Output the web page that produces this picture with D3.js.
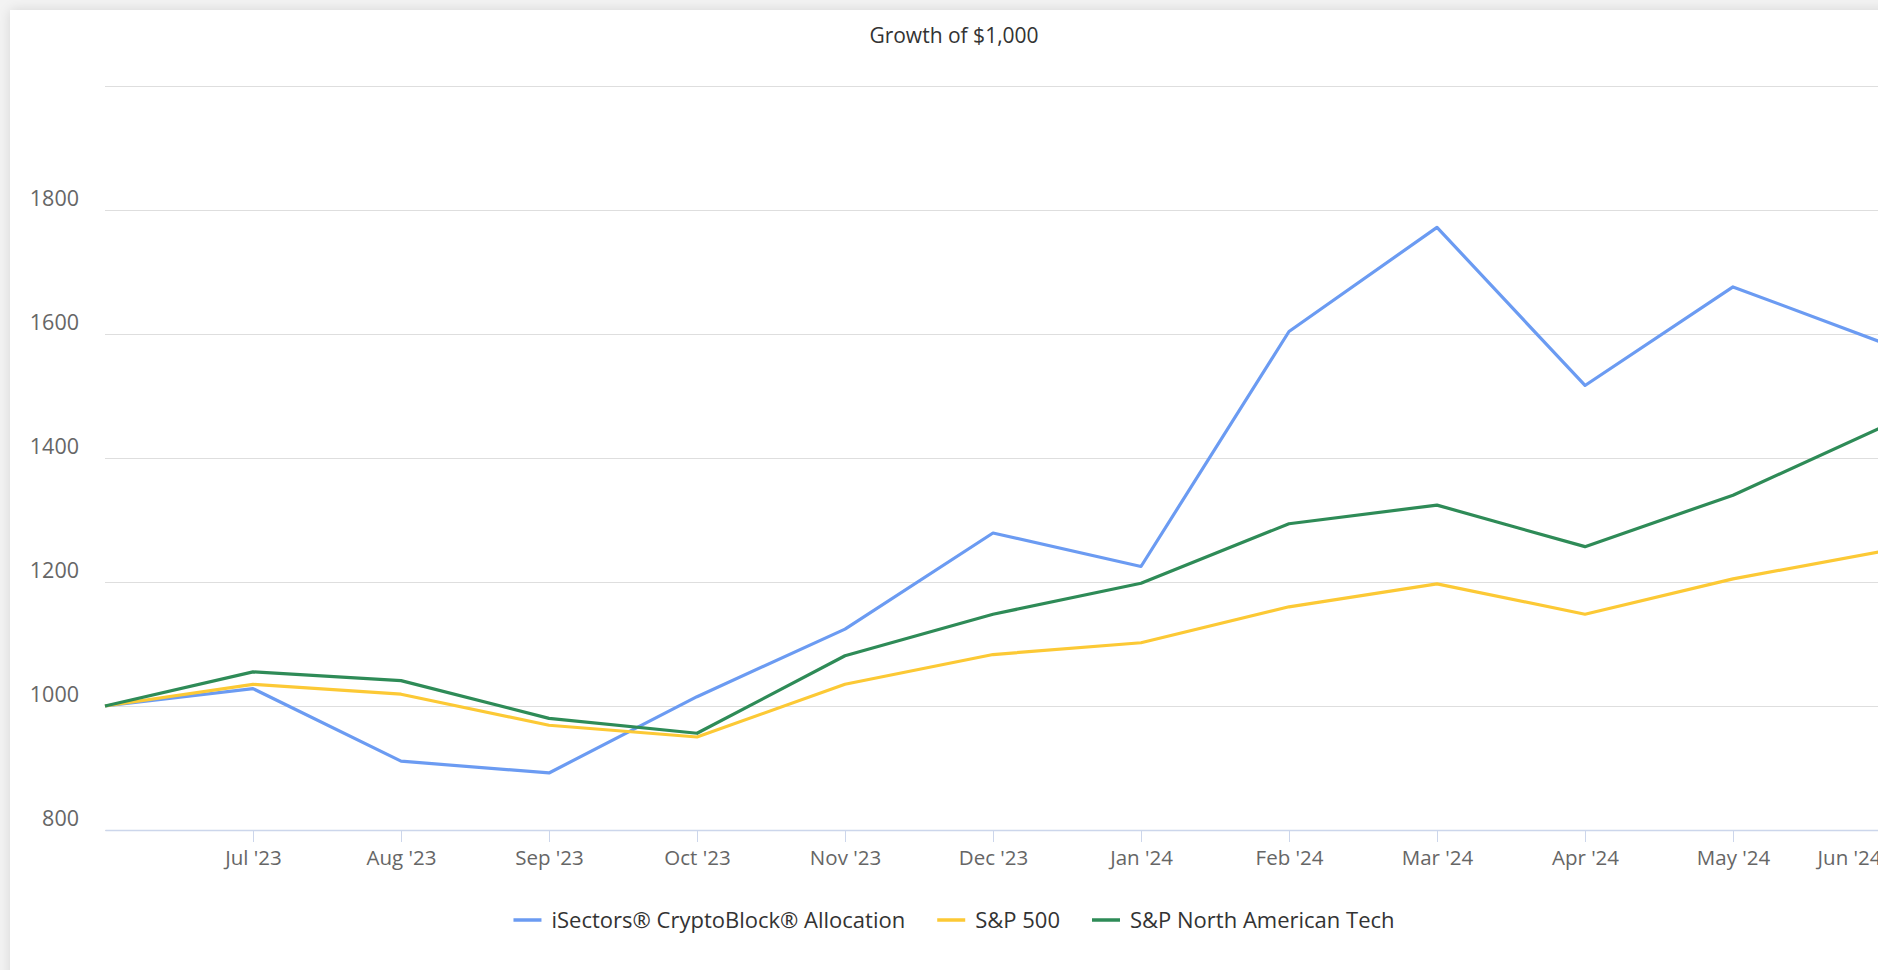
<!DOCTYPE html>
<html>
<head>
<meta charset="utf-8">
<script src="https://cdn.jsdelivr.net/npm/d3@7"></script>
<style>
  html, body { margin: 0; padding: 0; overflow: hidden; background: #f3f3f3; }
  body { width: 1878px; height: 970px; position: relative; font-family: "Open Sans", sans-serif; }
  .card { position: absolute; left: 10px; top: 10px; width: 1900px; height: 1000px; background: #fff;
          box-shadow: 0 0 12px rgba(0,0,0,0.12); }
  svg { position: absolute; left: 0; top: 0; }
  .title { font-size: 21px; fill: #333; }
  .tick text { font-family: "Open Sans", sans-serif; fill: #666; }
  .y-axis .tick text { font-size: 21.5px; }
  .x-axis .tick text { font-size: 20.5px; }
  .legend text { font-size: 22px; fill: #333; }
</style>
</head>
<body>
<div class="card"></div>
<div id="app"></div>
<script>
const months = ["Jun '23", "Jul '23", "Aug '23", "Sep '23", "Oct '23", "Nov '23", "Dec '23",
  "Jan '24", "Feb '24", "Mar '24", "Apr '24", "May '24", "Jun '24"];
const cryptoBlock = [1000, 1028, 911, 892, 1015, 1124, 1279, 1225, 1604, 1772, 1517, 1676, 1587];
const sp500 = [1000, 1035, 1019, 969, 950, 1035, 1083, 1102, 1160, 1197, 1148, 1205, 1249];
const naTech = [1000, 1055, 1041, 980, 956, 1081, 1148, 1198, 1294, 1324, 1257, 1340, 1449];
const yTicks = [800, 1000, 1200, 1400, 1600, 1800, 2000];
const seriesNames = ["iSectors® CryptoBlock® Allocation", "S&P 500", "S&P North American Tech"];
const seriesColors = ["#6b9bf2", "#fcc935", "#2e8b57"];

function render() {
  const width = 1900;
  const height = 970;
  const margin = { left: 105, right: 1881, top: 86, bottom: 830 };

  const svg = d3.select('#app').append('svg').attr('width', width).attr('height', height);

  const x = d3.scalePoint(months, [margin.left, margin.right]);
  const y = d3.scaleLinear([800, 2000], [margin.bottom, margin.top]);

  svg.append('text')
    .attr('class', 'title')
    .attr('x', 954)
    .attr('y', 43)
    .attr('text-anchor', 'middle')
    .text('Growth of $1,000');

  // y axis + gridlines
  const yAxis = svg.append('g')
    .attr('class', 'y-axis')
    .attr('transform', `translate(${margin.left},0)`)
    .call(d3.axisLeft(y).tickValues(yTicks).tickFormat(d3.format('d'))
      .tickSize(-(margin.right - margin.left)).tickPadding(26));
  yAxis.select('.domain').remove();
  yAxis.selectAll('line').attr('stroke', '#dedede');
  yAxis.selectAll('text').attr('dy', '-0.22em').filter(d => d === 2000).remove();

  // x axis
  const xAxis = svg.append('g')
    .attr('class', 'x-axis')
    .attr('transform', `translate(0,${margin.bottom})`)
    .call(d3.axisBottom(x).tickValues(months.slice(1)).tickSize(12).tickSizeOuter(0).tickPadding(8));
  xAxis.select('.domain').attr('stroke', '#ccd6eb').attr('stroke-width', 1.5);
  xAxis.selectAll('line').attr('stroke', '#ccd6eb');
  xAxis.selectAll('text').filter(d => d === "Jun '24").attr('text-anchor', 'end');

  // lines
  const line = d3.line().x((d, i) => x(months[i])).y(d => y(d));
  [cryptoBlock, sp500, naTech].forEach((vals, i) => {
    svg.append('path')
      .datum(vals)
      .attr('fill', 'none')
      .attr('stroke', seriesColors[i])
      .attr('stroke-width', 3.2)
      .attr('stroke-linejoin', 'round')
      .attr('d', line);
  });

  // legend
  const legend = svg.append('g').attr('class', 'legend');
  const symW = 28, gap = 10, itemGap = 32;
  const items = seriesNames.map((name, i) => {
    const g = legend.append('g');
    g.append('line').attr('x1', 0).attr('x2', symW).attr('y1', 0).attr('y2', 0)
      .attr('stroke', seriesColors[i]).attr('stroke-width', 3.5);
    const t = g.append('text').attr('x', symW + gap).attr('dy', '0.35em').text(name);
    return { g, w: symW + gap + t.node().getComputedTextLength() };
  });
  const total = d3.sum(items, d => d.w) + itemGap * (items.length - 1);
  let cx = 954 - total / 2;
  items.forEach(it => {
    it.g.attr('transform', `translate(${cx},920)`);
    cx += it.w + itemGap;
  });
}

render();
</script>
</body>
</html>
